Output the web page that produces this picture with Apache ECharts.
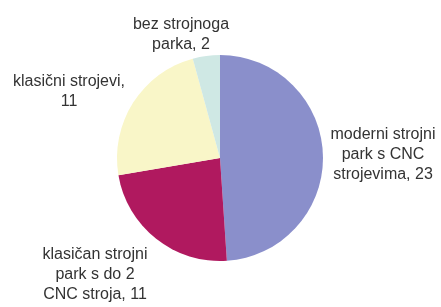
<!DOCTYPE html>
<html>
<head>
<meta charset="utf-8">
<script src="https://cdn.jsdelivr.net/npm/echarts@6/dist/echarts.min.js"></script>
<style>
  html, body { margin: 0; padding: 0; background: #fff; }
  #chart { width: 441px; height: 307px; }
</style>
</head>
<body>
<div id="chart"></div>
<script>
// kategorije i vrijednosti
const names = [
  'moderni strojni\npark s CNC\nstrojevima',
  'klasičan strojni\npark s do 2\nCNC stroja',
  'klasični strojevi,\n',
  'bez strojnoga\nparka'
]
const values = [23, 11, 11, 2]
const colors = ['#8a8fcb', '#b0195f', '#f9f6c8', '#cfe8e4']

// centar svake oznake (px)
const labelPos = [
  [383, 155],
  [95, 275],
  [69, 92],
  [181, 35]
]

const chart = echarts.init(document.getElementById('chart'), null, { renderer: 'canvas' })

chart.setOption({
  animation: false,
  series: [{
    type: 'pie',
    center: [220, 158],
    radius: 103,
    startAngle: 90,
    clockwise: true,
    itemStyle: { borderWidth: 0 },
    data: names.map((n, i) => ({
      name: n,
      value: values[i],
      itemStyle: { color: colors[i] }
    })),
    label: {
      show: true,
      position: 'outside',
      formatter: p => {
        // "klasični strojevi," ima broj u novom redu
        if (p.dataIndex === 2) return p.name + p.value
        return p.name + ', ' + p.value
      },
      color: '#333',
      fontFamily: 'Liberation Sans, Arial, sans-serif',
      fontSize: 16,
      lineHeight: 20,
      align: 'center',
      overflow: 'none'
    },
    labelLine: { show: false },
    labelLayout: params => ({
      x: labelPos[params.dataIndex][0],
      y: labelPos[params.dataIndex][1],
      align: 'center',
      verticalAlign: 'middle',
      hideOverlap: false
    }),
    emphasis: { disabled: true }
  }]
})
</script>
</body>
</html>
